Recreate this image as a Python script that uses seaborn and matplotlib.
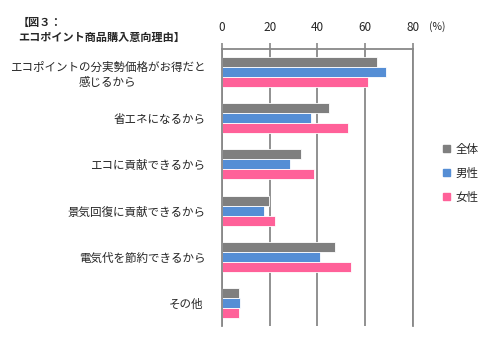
import pandas as pd
import matplotlib.pyplot as plt
import matplotlib.transforms as mtransforms
import seaborn as sns
from matplotlib.ticker import FixedLocator

reasons = ['エコポイントの分実勢価格がお得だと\n感じるから', '省エネになるから', 'エコに貢献できるから',
           '景気回復に貢献できるから', '電気代を節約できるから', 'その他']
groups = ['全体', '男性', '女性']
zentai = [64.9, 45.0, 33.3, 19.9, 47.4, 7.1]
dansei = [68.7, 37.3, 28.7, 17.8, 41.1, 7.5]
josei = [61.1, 52.7, 38.6, 22.1, 54.1, 7.0]
xticks = [0, 20, 40, 60, 80]
colors = ['#7f7f7f', '#558ed5', '#ff6199']

df = pd.DataFrame({
    'reason': reasons * 3,
    'group': [g for g in groups for _ in reasons],
    'value': zentai + dansei + josei,
})

sns.set_style('white')
plt.rcParams['font.family'] = ['Noto Sans CJK JP', 'DejaVu Sans']

fig = plt.figure(figsize=(5, 3.5), dpi=100)
ax = fig.add_axes([0.444, 0.0686, 0.3814, 0.7914])

sns.barplot(data=df, y='reason', x='value', hue='group', orient='h', order=reasons,
            hue_order=groups, palette=colors, saturation=1, width=0.65, gap=0,
            edgecolor='white', linewidth=0.6, legend=False, ax=ax)

ax.set_xlim(0, 80)
ax.set_xticks(xticks)
ax.xaxis.tick_top()
ax.tick_params(axis='x', which='major', direction='out', length=4, width=1.2,
               color='#888888', pad=7, labelsize=8.5)
ax.grid(axis='x', color='#888888', linewidth=1.3)
ax.set_axisbelow(True)

ax.set_xlabel('')
ax.set_ylabel('')
ax.tick_params(axis='y', which='major', length=0, pad=12, labelsize=8.3)
ax.yaxis.set_minor_locator(FixedLocator([i - 0.5 for i in range(len(reasons) + 1)]))
ax.tick_params(axis='y', which='minor', direction='out', length=4, width=1.2, color='#888888')

for lab in ax.get_yticklabels():
    lab.set_multialignment('center')
    if lab.get_text() == 'その他':
        lab.set_horizontalalignment('center')
        lab.set_transform(lab.get_transform() +
                          mtransforms.ScaledTranslation(-0.19, 0, fig.dpi_scale_trans))

for side in ['top', 'left', 'right']:
    ax.spines[side].set_visible(True)
    ax.spines[side].set_color('#888888')
    ax.spines[side].set_linewidth(1.3)
ax.spines['bottom'].set_visible(False)

handles = [plt.Rectangle((0, 0), 1, 1, color=c) for c in colors]
fig.legend(handles, groups, loc='center left', bbox_to_anchor=(0.865, 0.505), frameon=False,
           fontsize=8.3, handlelength=0.6, handleheight=0.6, handletextpad=0.5, labelspacing=0.95)

fig.text(0.036, 0.914, '【図３：\nエコポイント商品購入意向理由】', fontsize=8, fontweight='bold',
         va='center', ha='left', linespacing=1.15)
fig.text(0.858, 0.925, '(%)', fontsize=7.5, va='center', ha='left')

fig.savefig('out.png', dpi=100)
